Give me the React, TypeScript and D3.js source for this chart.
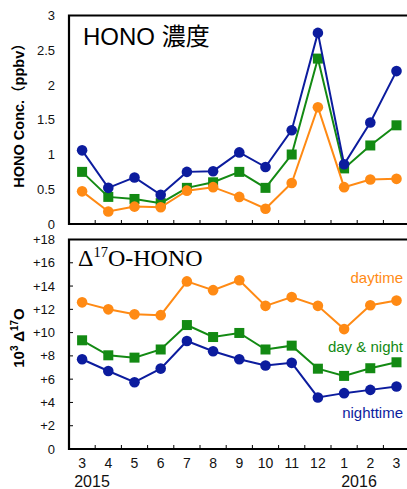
import React from 'react';
import * as d3 from 'd3';

const months = ['3', '4', '5', '6', '7', '8', '9', '10', '11', '12', '1', '2', '3'];

// HONO concentration (ppbv)
const concNight = [1.06, 0.52, 0.67, 0.42, 0.75, 0.76, 1.03, 0.82, 1.35, 2.75, 0.86, 1.46, 2.2];
const concBoth = [0.75, 0.39, 0.36, 0.3, 0.52, 0.6, 0.75, 0.52, 1.0, 2.38, 0.8, 1.13, 1.42];
const concDay = [0.47, 0.18, 0.25, 0.24, 0.48, 0.53, 0.39, 0.22, 0.59, 1.68, 0.53, 0.64, 0.65];

// 10^3 Δ17O
const d17Day = [12.6, 12.0, 11.57, 11.5, 14.4, 13.65, 14.5, 12.3, 13.05, 12.3, 10.3, 12.35, 12.75];
const d17Both = [9.34, 8.05, 7.85, 8.55, 10.65, 9.62, 9.97, 8.55, 8.88, 6.9, 6.28, 6.94, 7.45];
const d17Night = [7.71, 6.7, 5.74, 6.91, 9.28, 8.4, 7.71, 7.17, 7.4, 4.43, 4.8, 5.08, 5.37];

const concTicks = [0, 0.5, 1, 1.5, 2, 2.5, 3];
const d17Ticks = [0, 2, 4, 6, 8, 10, 12, 14, 16, 18];

const BLUE = '#0c1c9e';
const GREEN = '#138a13';
const ORANGE = '#ff8a14';

const left = 69;
const bw = 26.2;
const x = d3.scaleBand<number>().domain(d3.range(13)).range([left, left + bw * 13]).paddingInner(0);
const cx = (i: number) => (x(i) as number) + bw / 2;

const yTop = d3.scaleLinear().domain([0, 3]).range([224, 15.5]);
const yBot = d3.scaleLinear().domain([0, 18]).range([449, 239.5]);

const sans = '"Liberation Sans", Arial, sans-serif';

function Series({ data, y, color, shape }: { data: number[]; y: d3.ScaleLinear<number, number>; color: string; shape: 'c' | 's' }) {
  const line = d3.line<number>().x((d, i) => cx(i)).y(d => y(d));
  return (
    <g>
      <path d={line(data) || ''} fill="none" stroke={color} strokeWidth={2} />
      {data.map((d, i) =>
        shape === 'c' ? (
          <circle key={i} cx={cx(i)} cy={y(d)} r={5.3} fill={color} />
        ) : (
          <rect key={i} x={cx(i) - 5} y={y(d) - 5} width={10} height={10} fill={color} />
        )
      )}
    </g>
  );
}

function Frame({ y }: { y: d3.ScaleLinear<number, number> }) {
  const [b, t] = y.range();
  return (
    <g>
      {d3.range(1, 13).map(i => (
        <line key={i} x1={x(i)} x2={x(i)} y1={b} y2={b - 4} stroke="#000" strokeWidth={1} />
      ))}
      <path d={`M407,${t} H${left} V${b} H407`} fill="none" stroke="#000" strokeWidth={2.2} />
    </g>
  );
}

export default function App() {
  return (
    <svg width={407} height={489} style={{ position: 'absolute', left: 0, top: 0, background: '#fff' }}>
      {/* top panel */}
      <Frame y={yTop} />
      {concTicks.map(t => (
        <text key={t} x={55} y={yTop(t) + 4.5} textAnchor="end" fontFamily={sans} fontSize={13} fill="#111">
          {t}
        </text>
      ))}
      <text transform="translate(23.5,112) rotate(-90)" textAnchor="middle" fontFamily={`${sans}, "Noto Sans CJK JP"`} fontWeight="bold" fontSize={14.5}>
        HONO Conc.（ppbv）
      </text>
      <text x={83} y={45} fontFamily={`${sans}, "Noto Sans CJK JP"`} fontSize={24}>
        HONO 濃度
      </text>
      <Series data={concBoth} y={yTop} color={GREEN} shape="s" />
      <Series data={concDay} y={yTop} color={ORANGE} shape="c" />
      <Series data={concNight} y={yTop} color={BLUE} shape="c" />

      {/* bottom panel */}
      <Frame y={yBot} />
      {d17Ticks.map(t => (
        <g key={t}>
          {t > 0 && t < 18 && <line x1={left} x2={left + 4} y1={yBot(t)} y2={yBot(t)} stroke="#000" />}
          <text x={55} y={yBot(t) + 4.5} textAnchor="end" fontFamily={sans} fontSize={13} fill="#111">
            {t === 0 ? '0' : `+${t}`}
          </text>
        </g>
      ))}
      <text transform="translate(23.5,338) rotate(-90)" textAnchor="middle" fontFamily={sans} fontWeight="bold" fontSize={15}>
        10<tspan fontSize={10} dy={-6}>3</tspan>
        <tspan dy={6}> Δ</tspan>
        <tspan fontSize={10} dy={-6}>17</tspan>
        <tspan dy={6}>O</tspan>
      </text>
      <text x={78} y={266} fontFamily={'"Liberation Serif", "Times New Roman", serif'} fontSize={24}>
        Δ<tspan fontSize={14.5} dy={-9}>17</tspan>
        <tspan dy={9}>O-HONO</tspan>
      </text>
      <Series data={d17Both} y={yBot} color={GREEN} shape="s" />
      <Series data={d17Day} y={yBot} color={ORANGE} shape="c" />
      <Series data={d17Night} y={yBot} color={BLUE} shape="c" />
      <text x={403} y={283} textAnchor="end" fontFamily={sans} fontSize={15} fill={ORANGE}>daytime</text>
      <text x={403} y={352} textAnchor="end" fontFamily={sans} fontSize={15} fill={GREEN}>day &amp; night</text>
      <text x={403} y={418} textAnchor="end" fontFamily={sans} fontSize={15} fill={BLUE}>nighttime</text>

      {/* x labels */}
      {months.map((m, i) => (
        <text key={i} x={cx(i)} y={468} textAnchor="middle" fontFamily={sans} fontSize={14} fill="#111">
          {m}
        </text>
      ))}
      <text x={92} y={487} textAnchor="middle" fontFamily={sans} fontSize={16} fill="#111">2015</text>
      <text x={359} y={487} textAnchor="middle" fontFamily={sans} fontSize={16} fill="#111">2016</text>
    </svg>
  );
}
